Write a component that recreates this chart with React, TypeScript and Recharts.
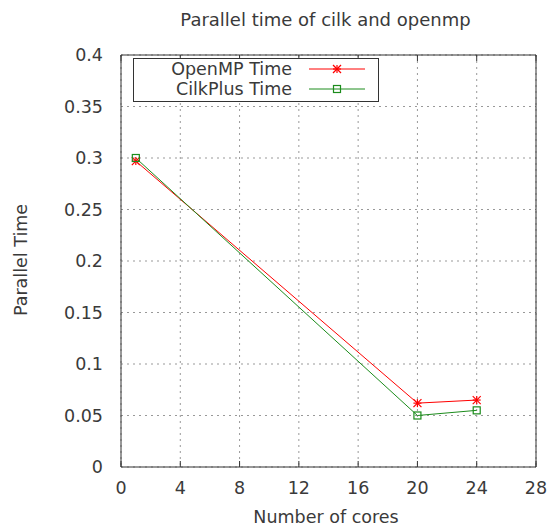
import React from "react";
import { LineChart, Line, XAxis, YAxis, CartesianGrid, Legend } from "recharts";

const cores = [1, 20, 24];
const openmpTime = [0.297, 0.062, 0.065];
const cilkTime = [0.3, 0.05, 0.055];
const xTicks = [0, 4, 8, 12, 16, 20, 24, 28];
const yTicks = [0, 0.05, 0.1, 0.15, 0.2, 0.25, 0.3, 0.35, 0.4];
const legendOrder = ["openmp", "cilk"];

const data = cores.map((c, i) => ({ cores: c, openmp: openmpTime[i], cilk: cilkTime[i] }));

const FONT = "'DejaVu Sans', sans-serif";
const TEXT = "#3a3a3a";
const BORDER = "#333";
const RED = "#ff0000";
const GREEN = "#1c8c1c";

const Star = ({ cx, cy, color }: { cx: number; cy: number; color: string }) => {
  const s = 4;
  return (
    <g stroke={color} strokeWidth={1.2}>
      <line x1={cx - s} y1={cy} x2={cx + s} y2={cy} />
      <line x1={cx} y1={cy - s} x2={cx} y2={cy + s} />
      <line x1={cx - s} y1={cy - s} x2={cx + s} y2={cy + s} />
      <line x1={cx - s} y1={cy + s} x2={cx + s} y2={cy - s} />
    </g>
  );
};

const Box = ({ cx, cy, color }: { cx: number; cy: number; color: string }) => (
  <rect x={cx - 3.5} y={cy - 3.5} width={7} height={7} fill="none" stroke={color} strokeWidth={1.2} />
);

const markers: Record<string, (cx: number, cy: number, color: string) => React.ReactElement> = {
  openmp: (cx, cy, color) => <Star cx={cx} cy={cy} color={color} />,
  cilk: (cx, cy, color) => <Box cx={cx} cy={cy} color={color} />,
};

const LegendBox = (props: any) => {
  const payload = [...(props.payload || [])].sort(
    (a: any, b: any) => legendOrder.indexOf(a.dataKey) - legendOrder.indexOf(b.dataKey)
  );
  return (
    <svg width={246} height={44} style={{ display: "block" }}>
      <rect x={0.5} y={0.5} width={245} height={43} fill="#fff" stroke={BORDER} />
      {payload.map((p: any, i: number) => {
        const y = 11 + i * 20;
        return (
          <g key={p.value}>
            <text x={159} y={y} dy="0.36em" textAnchor="end" fontSize={17.5} fontFamily={FONT} fill={TEXT}>
              {p.value}
            </text>
            <line x1={176} y1={y} x2={232} y2={y} stroke={p.color} strokeWidth={1} />
            {markers[p.dataKey](204, y, p.color)}
          </g>
        );
      })}
    </svg>
  );
};

const tickStyle = { fontSize: 17.5, fill: TEXT, fontFamily: FONT };
const blank = () => "";

export default function App() {
  return (
    <div style={{ position: "absolute", left: 0, top: 0, width: 549, height: 526, background: "#fff", fontFamily: FONT, color: TEXT }}>
      <LineChart width={549} height={526} data={data} margin={{ top: 55, right: 13, bottom: 0, left: 0 }}>
        <CartesianGrid xAxisId="b" yAxisId="l" stroke="#999" strokeDasharray="2 4" horizontal vertical />
        <XAxis
          xAxisId="b"
          dataKey="cores"
          type="number"
          domain={[0, 28]}
          ticks={xTicks}
          height={59}
          tickSize={6}
          tickMargin={9}
          tickLine={false}
          axisLine={{ stroke: BORDER }}
          tick={tickStyle}
          interval={0}
        />
        <XAxis xAxisId="bm" dataKey="cores" type="number" domain={[0, 28]} ticks={xTicks} orientation="bottom" mirror tickSize={6} tickFormatter={blank} tickLine={{ stroke: BORDER }} axisLine={false} interval={0} />
        <XAxis xAxisId="tm" dataKey="cores" type="number" domain={[0, 28]} ticks={xTicks} orientation="top" mirror tickSize={6} tickFormatter={blank} tickLine={{ stroke: BORDER }} axisLine={{ stroke: BORDER }} interval={0} />
        <YAxis
          yAxisId="l"
          type="number"
          domain={[0, 0.4]}
          ticks={yTicks}
          width={121}
          tickSize={6}
          tickMargin={12}
          tickLine={false}
          axisLine={{ stroke: BORDER }}
          tick={tickStyle}
          interval={0}
        />
        <YAxis yAxisId="lm" type="number" domain={[0, 0.4]} ticks={yTicks} orientation="left" mirror tickSize={6} tickFormatter={blank} tickLine={{ stroke: BORDER }} axisLine={false} interval={0} />
        <YAxis yAxisId="rm" type="number" domain={[0, 0.4]} ticks={yTicks} orientation="right" mirror tickSize={6} tickFormatter={blank} tickLine={{ stroke: BORDER }} axisLine={{ stroke: BORDER }} interval={0} />
        <Legend
          layout="vertical"
          align="center"
          verticalAlign="middle"
          content={<LegendBox />}
          wrapperStyle={{ top: 58, left: 133, width: 246, height: 44 }}
        />
        <Line
          xAxisId="b"
          yAxisId="l"
          dataKey="openmp"
          name="OpenMP Time"
          stroke={RED}
          strokeWidth={1}
          isAnimationActive={false}
          dot={(p: any) => <Star key={`o${p.index}`} cx={p.cx} cy={p.cy} color={RED} />}
          activeDot={false}
        />
        <Line
          xAxisId="b"
          yAxisId="l"
          dataKey="cilk"
          name="CilkPlus Time"
          stroke={GREEN}
          strokeWidth={1}
          isAnimationActive={false}
          dot={(p: any) => <Box key={`c${p.index}`} cx={p.cx} cy={p.cy} color={GREEN} />}
          activeDot={false}
        />
      </LineChart>
      <div style={{ position: "absolute", left: 325.5, top: 10, transform: "translateX(-50%)", fontSize: 18, lineHeight: "20px", whiteSpace: "nowrap" }}>
        Parallel time of cilk and openmp
      </div>
      <div style={{ position: "absolute", left: 21, top: 260, transform: "translate(-50%, -50%) rotate(-90deg)", fontSize: 17.5, lineHeight: "20px", whiteSpace: "nowrap" }}>
        Parallel Time
      </div>
      <div style={{ position: "absolute", left: 326, top: 507, transform: "translateX(-50%)", fontSize: 17.5, lineHeight: "20px", whiteSpace: "nowrap" }}>
        Number of cores
      </div>
    </div>
  );
}
